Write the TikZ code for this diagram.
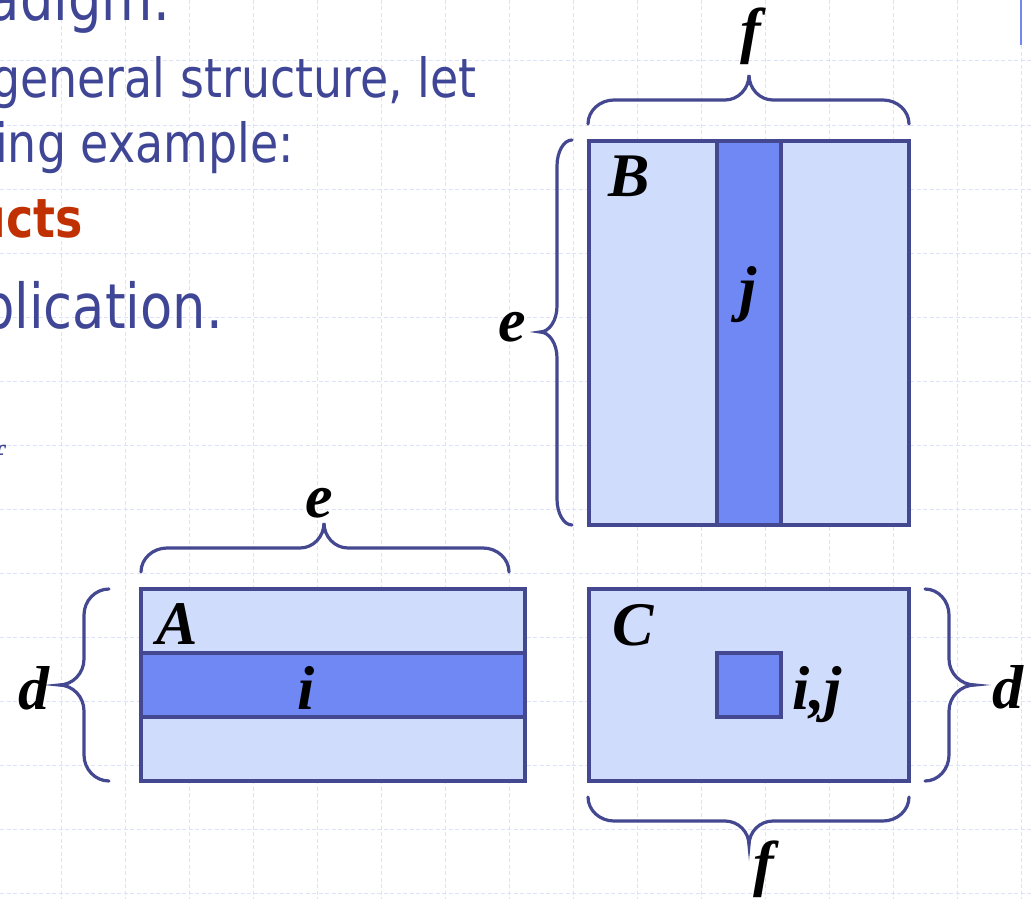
\documentclass[tikz,border=0pt]{standalone}
\usepackage{fontspec}
\setmainfont{Liberation Serif}
\newfontfamily\tah[FakeStretch=0.85]{DejaVu Sans}
\definecolor{navy}{RGB}{68,72,144}
\definecolor{txtblue}{RGB}{64,70,150}
\definecolor{lightfill}{RGB}{208,220,252}
\definecolor{darkfill}{RGB}{112,136,244}
\definecolor{gridc}{RGB}{218,226,252}
\definecolor{redc}{RGB}{192,48,0}
\definecolor{lineblue}{RGB}{112,136,240}
\tikzset{
  gridline/.style={gridc, line width=1pt, dash pattern=on 4pt off 2.5pt},
  bracestyle/.style={navy, line width=3.2pt, line cap=round},
  border/.style={navy, line width=3.6pt},
  lab/.style={inner sep=0pt, anchor=base, font=\fontsize{62}{62}\selectfont\bfseries\itshape},
  slide/.style={inner sep=0pt, anchor=base east, txtblue},
}
% horizontal brace: x1, x2, yEnd, yBar, yTip, xMid
\newcommand\hbrc[6]{%
  \draw[bracestyle] (#1,#3) .. controls (#1,{#3+0.55*(#4-#3)}) and ({#1+11.7},#4) .. ({#1+26},#4)
    -- ({#6-24},#4) .. controls ({#6-10.8},#4) and (#6,{#5+0.55*(#4-#5)}) .. (#6,#5)
    .. controls (#6,{#5+0.55*(#4-#5)}) and ({#6+10.8},#4) .. ({#6+24},#4)
    -- ({#2-26},#4) .. controls ({#2-11.7},#4) and (#2,{#3+0.55*(#4-#3)}) .. (#2,#3);}
% vertical brace: y1, y2, xEnd, xBar, xTip, yMid
\newcommand\vbrc[6]{%
  \draw[bracestyle] (#3,#1) .. controls ({#3+0.55*(#4-#3)},#1) and (#4,{#1+11.7}) .. (#4,{#1+26})
    -- (#4,{#6-26}) .. controls (#4,{#6-11.7}) and ({#5+0.55*(#4-#5)},#6) .. (#5,#6)
    .. controls ({#5+0.55*(#4-#5)},#6) and (#4,{#6+11.7}) .. (#4,{#6+26})
    -- (#4,{#2-26}) .. controls (#4,{#2-11.7}) and ({#3+0.55*(#4-#3)},#2) .. (#3,#2);}
\begin{document}
\begin{tikzpicture}[x=1pt,y=-1pt]
\useasboundingbox (0,0) rectangle (1034,899);
\clip (0,0) rectangle (1034,899);
\fill[white] (0,0) rectangle (1034,899);
% background grid
\foreach \i in {0,...,15} \draw[gridline] ({61+64*\i},0) -- ({61+64*\i},899);
\foreach \j in {0,...,13} \draw[gridline] (0,{61+64*\j}) -- (1034,{61+64*\j});
% slide text (cut off at the left)
\node[slide, font=\tah\fontsize{62}{62}\selectfont] (t1) at (170,21) {adigm.};
\node[slide, font=\tah\fontsize{54}{54}\selectfont] (t2) at (477,98) {general structure, let};
\node[slide, font=\tah\fontsize{54}{54}\selectfont] (t3) at (294,162) {ing example:};
\node[slide, redc, font=\tah\fontsize{54}{54}\selectfont\bfseries] (t4) at (83,237) {ucts};
\node[slide, font=\tah\fontsize{62}{62}\selectfont] (t5) at (223,328) {plication.};
\node[inner sep=0pt, anchor=base west, txtblue, font=\fontsize{36}{36}\selectfont\itshape] (t6) at (-8,470) {f};
\draw[lineblue, line width=2.2pt] (1021,0) -- (1021,45);
% matrix B
\fill[lightfill] (589,141) rectangle (909,525);
\fill[darkfill] (717,141) rectangle (781,525);
\draw[border] (589,141) rectangle (909,525);
\draw[border] (717,141) -- (717,525) (781,141) -- (781,525);
% matrix A
\fill[lightfill] (141,589) rectangle (525,781);
\fill[darkfill] (141,653) rectangle (525,717);
\draw[border] (141,589) rectangle (525,781);
\draw[border] (141,653) -- (525,653) (141,717) -- (525,717);
% matrix C
\fill[lightfill] (589,589) rectangle (909,781);
\draw[border] (589,589) rectangle (909,781);
\draw[border, fill=darkfill] (717,653) rectangle (781,717);
% braces
\hbrc{588}{909}{124}{100}{75}{749}
\vbrc{140}{525}{572}{557}{540}{332}
\hbrc{141}{509}{572}{548}{523}{324}
\vbrc{589}{781}{109}{84}{59}{685}
\vbrc{589}{781}{925}{949}{975}{685}
\hbrc{588}{909}{797}{821}{845}{749}
% labels
\node[lab] (lf1) at (751,52) {f};
\node[lab] (le1) at (512,341) {e};
\node[lab] (lB) at (629,196) {B};
\node[lab] (lj) at (748,309) {j};
\node[lab] (le2) at (319,517) {e};
\node[lab] (lA) at (177,644) {A};
\node[lab] (li) at (306,709) {i};
\node[lab] (ld1) at (34,709) {d};
\node[lab] (lC) at (633,645) {C};
\node[lab] (lij) at (817,709) {i,j};
\node[lab] (ld2) at (1008,708) {d};
\node[lab] (lf2) at (764,884) {f};
\end{tikzpicture}
\end{document}
